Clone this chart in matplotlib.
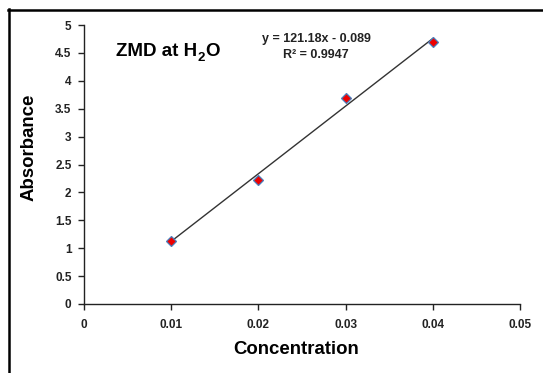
import matplotlib
matplotlib.use("Agg")
import matplotlib.pyplot as plt
from matplotlib.lines import Line2D
import numpy as np

plt.rcParams['font.family'] = ['Liberation Sans', 'DejaVu Sans']

concentration = [0.01, 0.02, 0.03, 0.04]
absorbance = [1.13, 2.22, 3.70, 4.69]
slope = 121.18
intercept = -0.089
r_squared = 0.9947

x_ticks = [0, 0.01, 0.02, 0.03, 0.04, 0.05]
x_tick_labels = ["0", "0.01", "0.02", "0.03", "0.04", "0.05"]
y_ticks = [0, 0.5, 1, 1.5, 2, 2.5, 3, 3.5, 4, 4.5, 5]
y_tick_labels = ["0", "0.5", "1", "1.5", "2", "2.5", "3", "3.5", "4", "4.5", "5"]

W, H = 543, 373
fig = plt.figure(figsize=(W / 100, H / 100), dpi=100)
ax = fig.add_axes([84 / W, 1 - 304 / H, (520 - 84) / W, (304 - 25) / H])

# outer chart-area frame (left and top edges)
fig.add_artist(Line2D([8.5 / W, 8.5 / W], [0, 1 - 9 / H], transform=fig.transFigure,
                      color="black", lw=1.8))
fig.add_artist(Line2D([8 / W, 1], [1 - 9.5 / H, 1 - 9.5 / H], transform=fig.transFigure,
                      color="black", lw=1.8))

# linear trendline
xs = np.array([concentration[0], concentration[-1]])
ax.plot(xs, slope * xs + intercept, color="#333333", lw=1.0, zorder=2)

ax.plot(concentration, absorbance, linestyle="none", marker="D", markersize=5.5,
        markerfacecolor="#ee0000", markeredgecolor="#4a7ebb", markeredgewidth=0.9, zorder=3)

ax.set_xlim(0, 0.05)
ax.set_ylim(0, 5)
ax.set_xticks(x_ticks)
ax.set_xticklabels(x_tick_labels)
ax.set_yticks(y_ticks)
ax.set_yticklabels(y_tick_labels)
for s in ("top", "right"):
    ax.spines[s].set_visible(False)
for s in ("left", "bottom"):
    ax.spines[s].set_color("#222222")
    ax.spines[s].set_linewidth(1.0)
ax.tick_params(direction="out", length=4, width=1.0, color="#222222",
               labelsize=8.5)
for lbl in ax.get_xticklabels() + ax.get_yticklabels():
    lbl.set_fontweight("bold")
    lbl.set_color("#222222")
ax.tick_params(axis="x", pad=7)
ax.tick_params(axis="y", pad=5)

# axis titles
fig.text(296 / W, 1 - 350 / H, "Concentration", fontsize=13.4, fontweight="bold",
         ha="center", va="center")
fig.text(29 / W, 1 - 147 / H, "Absorbance", fontsize=13.4, fontweight="bold",
         ha="center", va="center", rotation=90)

# title with a lowered, smaller subscript 2
t1 = ax.text(0.0037, 4.53, "ZMD at H", fontsize=13.5, fontweight="bold",
             ha="left", va="center")
fig.canvas.draw()
r = fig.canvas.get_renderer()
bb = t1.get_window_extent(r)
inv = ax.transData.inverted()
x2, _ = inv.transform((bb.x1, 0))
t2 = ax.text(x2, 4.41, "2", fontsize=9.5, fontweight="bold", ha="left", va="center")
bb2 = t2.get_window_extent(r)
x3, _ = inv.transform((bb2.x1, 0))
ax.text(x3, 4.53, "O", fontsize=13.5, fontweight="bold", ha="left", va="center")

ax.text(0.0266, 4.75, f"y = {slope}x - {abs(intercept)}", fontsize=9, fontweight="bold",
        ha="center", va="center", color="#222222")
ax.text(0.0266, 4.46, f"R² = {r_squared}", fontsize=9, fontweight="bold",
        ha="center", va="center", color="#222222")

fig.savefig("out.png", dpi=100)
